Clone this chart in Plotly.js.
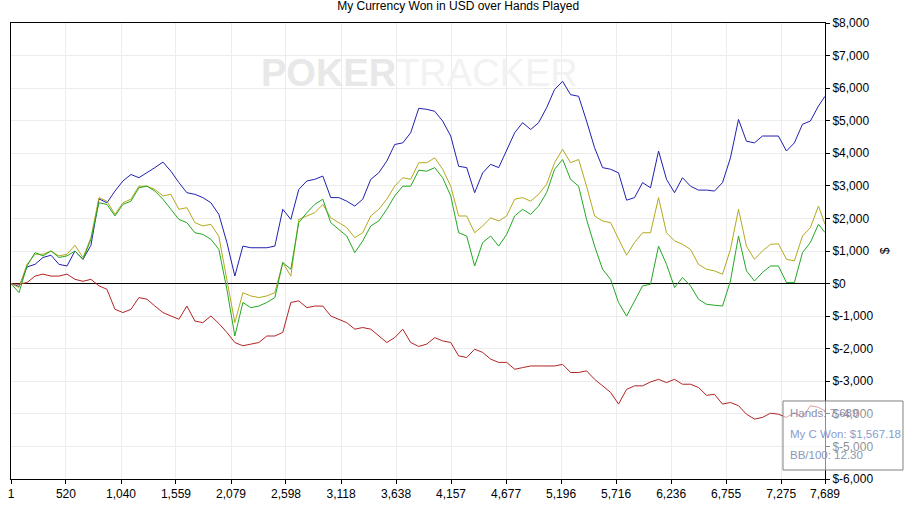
<!DOCTYPE html>
<html>
<head>
<meta charset="utf-8">
<script src="https://cdn.plot.ly/plotly-3.0.1.min.js"></script>
<style>html,body{margin:0;padding:0;background:#fff;}#chart{width:909px;height:506px;}</style>
</head>
<body>
<div id="chart"></div>
<script>
const hands = [1,77,152,228,303,379,454,530,605,681,756,832,907,983,1058,1134,1209,1285,1360,1436,1511,1587,1662,1738,1813,1889,1964,2040,2115,2191,2266,2342,2417,2493,2568,2644,2719,2795,2870,2946,3021,3097,3172,3248,3323,3399,3474,3550,3625,3701,3776,3852,3927,4003,4078,4154,4229,4305,4380,4456,4531,4607,4682,4758,4833,4909,4984,5060,5135,5211,5286,5362,5437,5513,5588,5664,5739,5815,5890,5966,6041,6117,6192,6268,6343,6419,6494,6570,6645,6721,6796,6872,6947,7023,7098,7174,7249,7325,7400,7476,7551,7627,7689];

const blueSeries = [0,-90,510,590,800,870,590,540,1000,745,
1175,2600,2480,2840,3150,3350,3250,3400,3560,3730,
3450,3100,2790,2740,2640,2480,2125,1260,230,1150,
1100,1100,1100,1150,2280,1970,2890,3150,3200,3300,
2640,2640,2530,2380,2590,3200,3400,3760,4270,4320,
4630,5380,5350,5290,4990,4530,3600,3560,2790,3400,
3660,3560,4070,4630,4940,4730,4940,5400,5960,6210,
5800,5750,4990,4170,3560,3510,3400,2560,2640,3100,
2940,4070,3200,2790,3250,2990,2870,2870,2840,3100,
3860,5040,4370,4320,4530,4530,4530,4070,4320,4890,
4990,5450,5750];

const oliveSeries = [0,-120,590,900,900,1000,850,900,1175,800,
1410,2640,2530,2125,2480,2590,2990,2990,2890,2690,
2740,2280,2330,1870,1770,1820,1450,130,-1200,-280,
-380,-430,-380,-280,645,230,1970,2075,2175,2430,
2020,1870,1720,1410,1560,2075,2280,2590,2990,3250,
3200,3710,3710,3860,3510,2990,2075,2075,1560,1770,
2020,1920,2075,2590,2640,2530,2740,3050,3710,4120,
3710,3810,2990,2075,1920,1870,1360,870,1260,1560,
1560,2640,1560,1310,1205,1050,590,440,390,285,
1050,2280,1150,745,1000,1205,1220,745,695,1460,
1720,2380,1820];

const greenSeries = [0,-280,540,950,850,1000,800,850,1000,745,
1360,2480,2430,2075,2430,2530,2940,2990,2840,2590,
2280,1970,1870,1560,1510,1360,1050,-175,-1610,-580,
-740,-690,-580,-430,645,440,1870,2175,2430,2590,
1870,1660,1460,950,1310,1770,1920,2280,2690,2990,
2990,3480,3450,3560,3250,2690,1560,1460,540,1260,
1460,1150,1510,2075,2280,2125,2380,2790,3510,3810,
3200,2990,1970,1150,440,130,-580,-1000,-530,-70,
-20,1150,590,-120,185,-70,-480,-635,-665,-690,
80,1460,390,80,340,540,540,30,30,950,
1260,1820,1567];

const redSeries = [0,-20,30,230,290,230,230,290,130,70,
130,-70,-175,-790,-890,-790,-430,-480,-690,-890,
-995,-1095,-690,-1150,-1200,-995,-1225,-1500,-1810,-1910,
-1860,-1810,-1610,-1610,-1500,-580,-530,-740,-690,-690,
-995,-1095,-1200,-1400,-1350,-1400,-1610,-1810,-1660,-1400,
-1810,-1930,-1860,-1660,-1760,-1810,-2220,-2270,-2015,-2115,
-2320,-2420,-2420,-2630,-2580,-2530,-2530,-2530,-2530,-2480,
-2730,-2730,-2680,-2940,-3140,-3340,-3700,-3250,-3140,-3140,
-3020,-2940,-3040,-2940,-3090,-3090,-3190,-3430,-3400,-3700,
-3650,-3750,-4010,-4160,-4110,-3980,-4010,-4110,-3960,-4110,
-3750,-3800,-3910];

const handTicks = [1,520,1040,1559,2079,2598,3118,3638,4157,4677,5196,5716,6236,6755,7275,7689];
const handTickText = ['1','520','1,040','1,559','2,079','2,598','3,118','3,638','4,157','4,677','5,196','5,716','6,236','6,755','7,275','7,689'];
const yTickVals = [-6000,-5000,-4000,-3000,-2000,-1000,0,1000,2000,3000,4000,5000,6000,7000,8000];
const yTickText = ['$-6,000','$-5,000','$-4,000','$-3,000','$-2,000','$-1,000','$0','$1,000','$2,000','$3,000','$4,000','$5,000','$6,000','$7,000','$8,000'];
const infoLines = ['Hands: 7,689','My C Won: $1,567.18','BB/100: 12.30'];

const FONT = 'Liberation Sans, Arial, sans-serif';

function line(y, color) {
  return {x: hands, y: y, type: 'scatter', mode: 'lines',
    line: {color: color, width: 1}, hoverinfo: 'skip', showlegend: false};
}

const traces = [
  line(redSeries, '#b32323'),
  line(blueSeries, '#2020b0'),
  line(oliveSeries, '#b3a91c'),
  line(greenSeries, '#22a822')
];

const infoColors = ['#8e8ea8', '#8a9bd0', '#8a96b4'];
const infoY = [0.1447, 0.0987, 0.0526];
const annotations = [
  {xref: 'paper', yref: 'paper', x: 0.502, y: 0.890, xanchor: 'center', yanchor: 'middle',
   showarrow: false,
   text: "<b><span style='color:#e8e8e8'>POKER</span></b><span style='color:#f2f2f2'>TRACKER</span>",
   font: {family: 'Liberation Sans Narrow, Liberation Sans, Arial, sans-serif', size: 38, color: '#eeeeee'}}
];
infoLines.forEach((t, i) => {
  annotations.push({xref: 'paper', yref: 'paper', x: 0.9546, y: infoY[i], xanchor: 'left', yanchor: 'middle',
    showarrow: false, text: t, font: {family: FONT, size: 11.5, color: infoColors[i]}});
});

const layout = {
  width: 909, height: 506,
  margin: {l: 11, r: 84, t: 23, b: 27, pad: 0},
  paper_bgcolor: '#ffffff', plot_bgcolor: '#ffffff',
  showlegend: false,
  font: {family: FONT, size: 12, color: '#000000'},
  title: {text: 'My Currency Won in USD over Hands Played', x: 0.504, xref: 'container', xanchor: 'center',
          y: 0.988, yref: 'container', yanchor: 'middle', font: {family: FONT, size: 12, color: '#000000'}},
  xaxis: {range: [1, 7689], tickmode: 'array', tickvals: handTicks, ticktext: handTickText,
          showgrid: true, gridcolor: '#ececec', gridwidth: 1, zeroline: false,
          ticks: 'outside', ticklen: 4, tickcolor: '#000000', tickwidth: 1,
          showline: true, linecolor: '#000000', linewidth: 1, mirror: true,
          tickfont: {family: FONT, size: 12, color: '#000000'}},
  yaxis: {side: 'right', range: [-6000, 8000], tickmode: 'array', tickvals: yTickVals, ticktext: yTickText,
          showgrid: true, gridcolor: '#ececec', gridwidth: 1,
          zeroline: true, zerolinecolor: '#000000', zerolinewidth: 1,
          ticks: 'outside', ticklen: 4, tickcolor: '#000000', tickwidth: 1,
          showline: true, linecolor: '#000000', linewidth: 1, mirror: true,
          tickfont: {family: FONT, size: 12, color: '#000000'},
          title: {text: '$', font: {family: FONT, size: 12, color: '#000000'}, standoff: 8}},
  shapes: [
    {type: 'rect', xref: 'paper', yref: 'paper', x0: 0.9484, x1: 1.0958, y0: 0.0197, y1: 0.1711,
     fillcolor: 'rgba(255,255,255,0.55)', line: {color: '#808080', width: 1}, layer: 'above'}
  ],
  annotations: annotations
};

Plotly.newPlot('chart', traces, layout, {staticPlot: true, displayModeBar: false});
</script>
</body>
</html>
